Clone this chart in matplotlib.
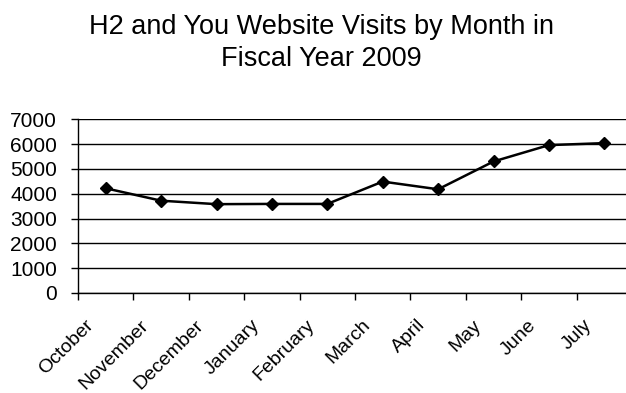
import numpy as np
import matplotlib
matplotlib.use('Agg')
import matplotlib.pyplot as plt
from matplotlib import transforms

months = ['October', 'November', 'December', 'January', 'February',
          'March', 'April', 'May', 'June', 'July']
visits = [4220, 3720, 3580, 3590, 3590, 4490, 4180, 5300, 5960, 6040]
y_ticks = [0, 1000, 2000, 3000, 4000, 5000, 6000, 7000]

plt.rcParams['font.family'] = ['Liberation Sans', 'DejaVu Sans']

fig = plt.figure(figsize=(6.26, 3.93), dpi=100)
ax = fig.add_axes([78 / 626, 100 / 393, 554 / 626, 173.7 / 393])

x = np.arange(len(months))
ax.plot(x, visits, color='black', linewidth=1.8, marker='D', markersize=6,
        markerfacecolor='black', markeredgecolor='black', zorder=3)

ax.set_xlim(-0.5, len(months) - 0.5)
ax.set_ylim(0, 7000)
ax.set_yticks(y_ticks)
ax.set_yticklabels([str(v) for v in y_ticks], fontsize=15)
ax.yaxis.grid(True, color='black', linewidth=1)
ax.set_axisbelow(True)

# ticks between categories, labels at the centres
ax.set_xticks(np.arange(-0.5, len(months) + 0.5, 1), minor=True)
ax.set_xticks(x)
ax.set_xticklabels(months, fontsize=14, rotation=45, ha='right', va='top')
ax.tick_params(axis='x', which='major', length=0, pad=17)
ax.tick_params(axis='x', which='minor', length=5, width=1, color='black', direction='out')
ax.tick_params(axis='y', length=5, width=1, color='black', pad=10)

shift = transforms.ScaledTranslation(-9 / 100, 0, fig.dpi_scale_trans)
for lab in ax.get_xticklabels():
  lab.set_transform(lab.get_transform() + shift)

for side in ['top', 'right']:
  ax.spines[side].set_visible(False)
for side in ['left', 'bottom']:
  ax.spines[side].set_color('black')
  ax.spines[side].set_linewidth(1)

fig.text(321 / 626, 1 - 14 / 393, 'H2 and You Website Visits by Month in\nFiscal Year 2009',
         ha='center', va='top', fontsize=19.5, linespacing=1.3, multialignment='center')

fig.savefig('out.png', dpi=100, facecolor='white')
